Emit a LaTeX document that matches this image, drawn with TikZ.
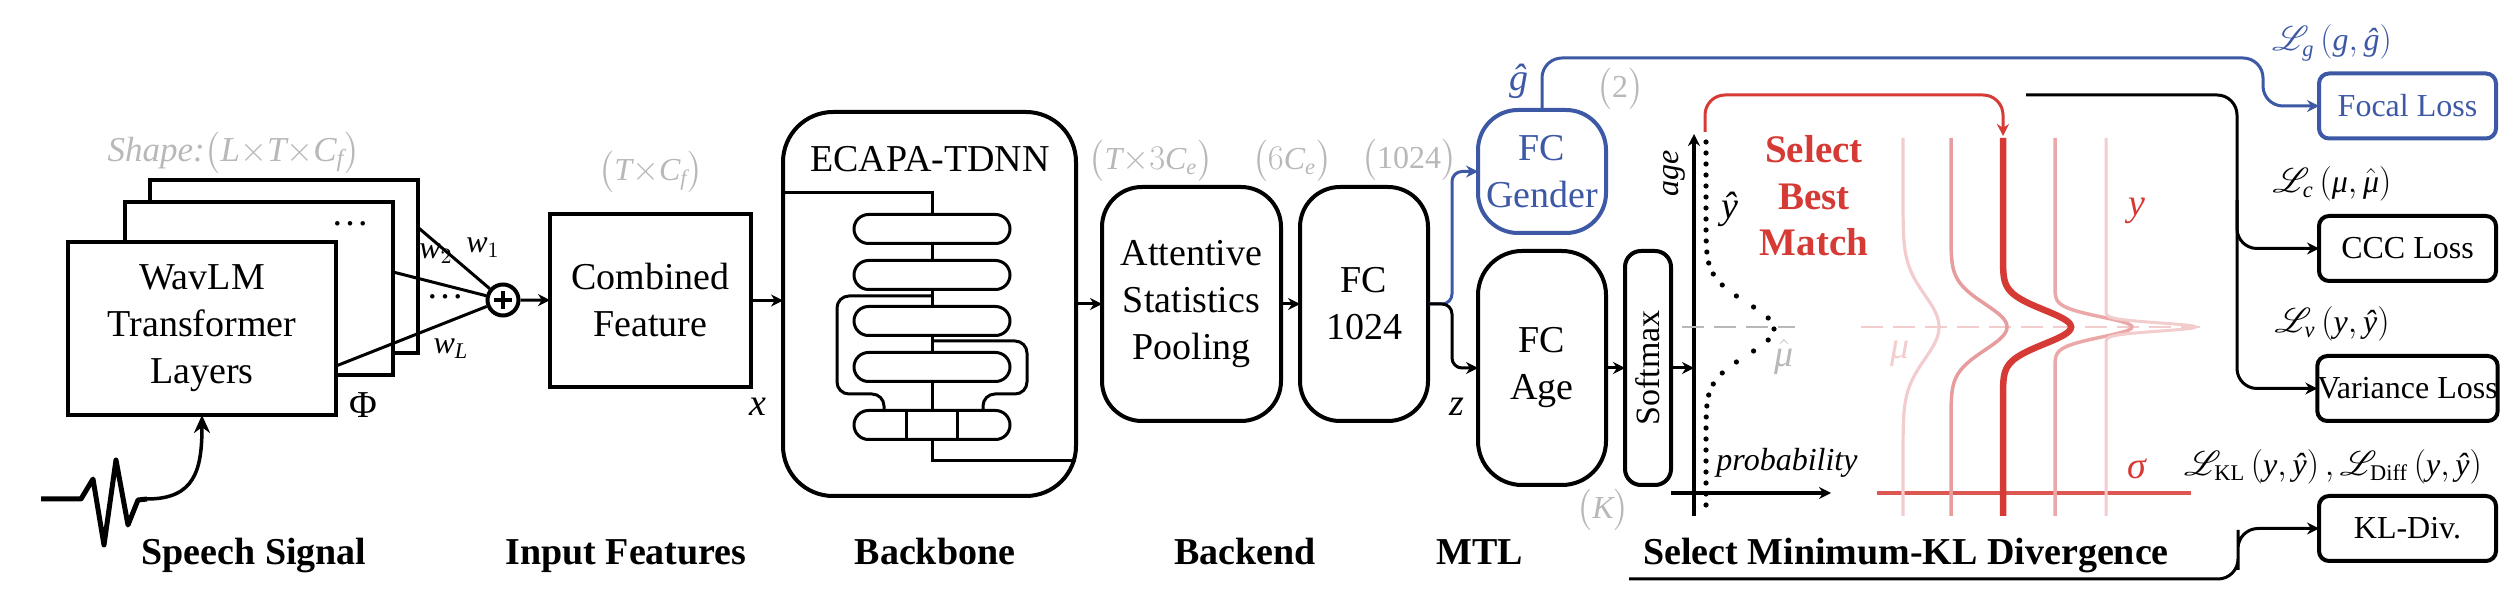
\documentclass[tikz,border=0pt]{standalone}
\usepackage{amsmath}
\usepackage{mathrsfs}
\usepackage{fontspec}
\setmainfont{Liberation Serif}
\usetikzlibrary{arrows.meta,calc}
\definecolor{gr}{HTML}{B8B8B8}
\definecolor{bl}{HTML}{3D58A5}
\definecolor{rd}{HTML}{D63A35}
\definecolor{rdl}{HTML}{DC5652}
\definecolor{pkA}{HTML}{F3CDCD}
\definecolor{pkB}{HTML}{E79C9D}
\definecolor{pkC}{HTML}{EAA8A8}
\newcommand\ti[1]{\textit{#1}}
\begin{document}
\begin{tikzpicture}[x=0.5pt,y=-0.5pt,
  bx/.style={draw, line width=2pt, inner sep=0pt, outer sep=0pt, fill=white, align=center, font=\fontsize{19}{23.5}\selectfont},
  rbx/.style={bx, rounded corners=#1},
  lossbx/.style={draw, line width=2pt, rounded corners=5pt, minimum width=88.5pt, minimum height=32.5pt, inner sep=0pt, outer sep=0pt, font=\fontsize{16}{19}\selectfont},
  pill/.style={draw, line width=1.5pt, fill=white, rounded corners=7.25pt, minimum width=78pt, minimum height=14.5pt, inner sep=0pt, outer sep=0pt},
  glab/.style={text=gr, font=\fontsize{16}{19}\selectfont, inner sep=0pt},
  lab/.style={font=\fontsize{19}{23}\selectfont, inner sep=0pt},
  slab/.style={font=\fontsize{16}{19}\selectfont, inner sep=0pt},
  blab/.style={font=\bfseries\fontsize{19}{23}\selectfont, inner sep=0pt, anchor=base},
  conn/.style={line width=1.5pt},
  arr/.style={conn, -{Stealth[length=6pt,width=6pt]}},
  barr/.style={arr, draw=bl},
  rarr/.style={arr, draw=rd},
  inner/.style={line width=1.5pt}
]
\useasboundingbox (0,0) rectangle (2518,608);

% ---------- WavLM stack ----------
\node[bx, minimum width=134pt, minimum height=86.5pt] (wav3) at (283.5,266.5) {};
\node[bx, minimum width=134pt, minimum height=86.5pt] (wav2) at (259,288.5) {};
\node[bx, minimum width=134pt, minimum height=86.5pt] (wav1) at (202,328.5) {WavLM\\Transformer\\Layers};
\node[lab] (dotsA) at (350,224) {\dots};
\node[lab] (dotsB) at (445,297) {\dots};
\node[lab] (phi) at (363,405) {Φ};
\node[glab, font=\fontsize{17.5}{20}\selectfont] (shape) at (234,153) {\ti{Shape:}$\bigl(\ti{L}{\times}\ti{T}{\times}\ti{C}_{\ti{f}}\bigr)$};

\node[circle, draw, line width=2pt, minimum size=15.5pt, inner sep=0pt, fill=white] (plus) at (503,300) {};
\draw[line width=2pt] ($(plus.center)+(-9,0)$) -- ($(plus.center)+(9,0)$);
\draw[line width=2pt] ($(plus.center)+(0,-9)$) -- ($(plus.center)+(0,9)$);
\draw[conn] ($(wav3.north east)+(0,47)$) -- (plus);
\draw[conn] ($(wav2.north east)+(0,70)$) -- (plus);
\draw[conn] ($(wav1.north east)+(0,124)$) -- (plus);
\node[slab] (w1) at (483,248) {$\ti{w}_{1}$};
\node[slab] (w2) at (436,254) {$\ti{w}_{2}$};
\node[slab] (wL) at (451,349) {$\ti{w}_{\ti{L}}$};

% speech signal
\coordinate (sig0) at (41,499);
\draw[line width=2.5pt, line join=round] (sig0) -- (81,499) -- (93,479) -- (104,545) -- (116,460) -- (128,525) -- (138,500) -- (147,499);
\draw[line width=1.75pt, -{Stealth[length=9pt,width=8pt]}] (147,499) .. controls (195,499) and (202,470) .. (wav1.south);

% ---------- Combined feature ----------
\node[bx, minimum width=100.5pt, minimum height=86.5pt] (comb) at (650.5,300.5) {Combined\\Feature};
\node[glab] (tcf) at (651,172) {$\bigl(\ti{T}{\times}\ti{C}_{\ti{f}}\bigr)$};
\draw[arr] (plus) -- (comb);
\node[lab] (xlab) at (758,407) {\ti{x}};

% ---------- ECAPA ----------
\node[rbx=25pt, minimum width=146.5pt, minimum height=192pt] (ecapa) at (929.5,304) {};
\node[lab] (ecapaT) at (930,159) {ECAPA-TDNN};
\draw[inner] ($(ecapa.north west)+(0,81)$) -- (932,193) -- (932,461) -- ($(ecapa.south east)+(0,-35)$);
\draw[inner, rounded corners=6pt] (932,296) -| (837,394) -| (884,410);
\draw[inner, rounded corners=6pt] (932,341) -| (1027,394) -| (983,410);
\node[pill] (p1) at (932,229) {};
\node[pill] (p2) at (932,275) {};
\node[pill] (p3) at (932,321) {};
\node[pill] (p4) at (932,367) {};
\node[pill] (p5) at (932,425) {};
\draw[inner] ($(p5.north)+(-26,0)$) -- ($(p5.south)+(-26,0)$);
\draw[inner] ($(p5.north)+(25,0)$) -- ($(p5.south)+(25,0)$);
\draw[arr] (comb) -- (comb -| ecapa.west);

% ---------- Backend ----------
\node[rbx=20pt, minimum width=89.5pt, minimum height=117pt] (asp) at (1191.5,304) {Attentive\\Statistics\\Pooling};
\node[glab] (t3ce) at (1151,161) {$\bigl(\ti{T}{\times}3\ti{C}_{\ti{e}}\bigr)$};
\draw[arr] (ecapa) -- (asp);
\node[rbx=20pt, minimum width=64pt, minimum height=117pt] (fc1024) at (1364,304) {FC\\1024};
\node[glab] (six) at (1292,161) {$\bigl(6\ti{C}_{\ti{e}}\bigr)$};
\node[glab] (k1024) at (1409,160) {$\bigl($1024$\bigr)$};
\draw[arr] (asp) -- (fc1024);

% ---------- MTL ----------
\node[rbx=20pt, minimum width=64pt, minimum height=61.5pt, draw=bl, text=bl] (fcg) at (1542,171.5) {FC\\Gender};
\node[rbx=22pt, minimum width=64pt, minimum height=117pt] (fca) at (1542,368) {FC\\Age};
\node[rbx=8pt, minimum width=23pt, minimum height=117pt] (soft) at (1648,368) {};
\node[lab, rotate=90, font=\fontsize{17}{20}\selectfont] (softT) at (soft.center) {Softmax};
\draw[barr, rounded corners=5pt] (fc1024.east) -| (1452,240) |- (fcg.west);
\draw[arr, rounded corners=5pt] (fc1024.east) -| (1452,340) |- (fca.west);
\draw[arr] (fca) -- (soft);
\node[lab, text=bl] (ghat) at (1519,81) {\ti{ĝ}};
\node[glab] (two) at (1620,89) {$\bigl($2$\bigr)$};
\node[glab] (kk) at (1603,510) {$\bigl(\ti{K}\bigr)$};
\node[lab] (zlab) at (1457,407) {\ti{z}};

% ---------- distribution plot ----------
\coordinate (ageO) at (1694,516);
\coordinate (ageT) at (1694,134);
\coordinate (probL) at (1671,493);
\coordinate (probR) at (1831,493);
\coordinate (axin) at (1694,368);
\draw[line width=2pt, -{Stealth[length=6pt,width=6pt]}] (ageO) -- (ageT);
\draw[line width=2pt, -{Stealth[length=6pt,width=6pt]}] (probL) -- (probR);
\draw[arr] (soft) -- (axin);
\node[slab, rotate=90] (age) at (1674,173) {\ti{age}};
\node[slab] (prob) at (1787,463) {\ti{probability}};
\draw[gr, line width=1pt, dash pattern=on 11pt off 5pt] (1682,327) -- (1795,327);
\foreach \k in {-17,...,16}{
  \fill ({1706+68*exp(-min(0.5*(11*\k/26)*(11*\k/26),9))}, {329+11*\k}) circle (1.3pt);
}
\node[lab] (yhat) at (1730,209) {\ti{ŷ}};
\node[lab, text=gr] (muhat) at (1784,357) {$\hat{\text{\ti{μ}}}$};
\node[font=\bfseries\fontsize{19.5}{23.25}\selectfont, text=rd, align=center, inner sep=0pt] (sbm) at (1814,196) {Select\\Best\\Match};

\draw[color=pkA, line width=1pt, dash pattern=on 11pt off 5pt] (1861,327) -- (2200,327);
\draw[color=rdl, line width=1.75pt] (1877,493) -- (2191,493);
\foreach \xo/\am/\sg/\cl/\lw in {1903/36/32/pkA/1.6pt, 1951/56/23/pkB/1.75pt, 2055/77/10/pkC/1.75pt, 2106/90/4/pkA/1.5pt, 2003/68/17/rd/3.25pt}{
  \draw[color=\cl, line width=\lw, line join=round] plot[domain=138:516, samples=379, variable=\t] ({\xo+\am*exp(-min(0.5*((\t-327)/\sg)*((\t-327)/\sg),9))}, \t);
}
\node[lab, text=pkA] (mu) at (1900,354) {\ti{μ}};
\node[lab, text=rd] (ylab) at (2137,211) {\ti{y}};
\node[lab, text=rd] (sig) at (2137,469) {\ti{σ}};

\coordinate (selS) at (1705,132);
\coordinate (c3top) at (2003,136);
\draw[rarr, rounded corners=10pt] (selS) |- (2003,95) -- (c3top);

% ---------- losses ----------
\node[lossbx, draw=bl, text=bl] (focal) at (2407.5,106) {Focal Loss};
\node[lossbx] (ccc) at (2407.5,248.5) {CCC Loss};
\node[lossbx] (var) at (2407.5,388.5) {Variance Loss};
\node[lossbx] (kl) at (2407.5,528.5) {KL-Div.};
\node[slab, text=bl] (lg) at (2332,43) {$\mathscr{L}_{\ti{g}}\left(\ti{g},\ti{ĝ}\right)$};
\node[slab] (lc) at (2332,184) {$\mathscr{L}_{\ti{c}}\left(\ti{μ},\hat{\text{\ti{μ}}}\right)$};
\node[slab] (lv) at (2332,324) {$\mathscr{L}_{\ti{v}}\left(\ti{y},\ti{ŷ}\right)$};
\node[slab] (lkl) at (2333,467) {$\mathscr{L}_{\text{KL}}\left(\ti{y},\ti{ŷ}\right),\mathscr{L}_{\text{Diff}}\left(\ti{y},\ti{ŷ}\right)$};

\draw[barr, rounded corners=10pt] (fcg.north) |- (2263,58) |- (focal.west);
\coordinate (blkS) at (2026,95);
\draw[arr, rounded corners=10pt] (blkS) -| (2237,250) |- (var.west);
\draw[arr, rounded corners=10pt] (2237,200) |- (ccc.west);
\coordinate (ulS) at (1629,579);
\draw[arr, rounded corners=10pt] (ulS) -| (2238,550) |- (kl.west);

% ---------- bottom labels ----------
\node[blab] (l1) at (254,565) {Speech Signal};
\node[blab] (l2) at (626,565) {Input Features};
\node[blab] (l3) at (935,565) {Backbone};
\node[blab] (l4) at (1245,565) {Backend};
\node[blab] (l5) at (1480,565) {MTL};
\node[blab] (l6) at (1906,565) {Select Minimum-KL Divergence};
\end{tikzpicture}
\end{document}
